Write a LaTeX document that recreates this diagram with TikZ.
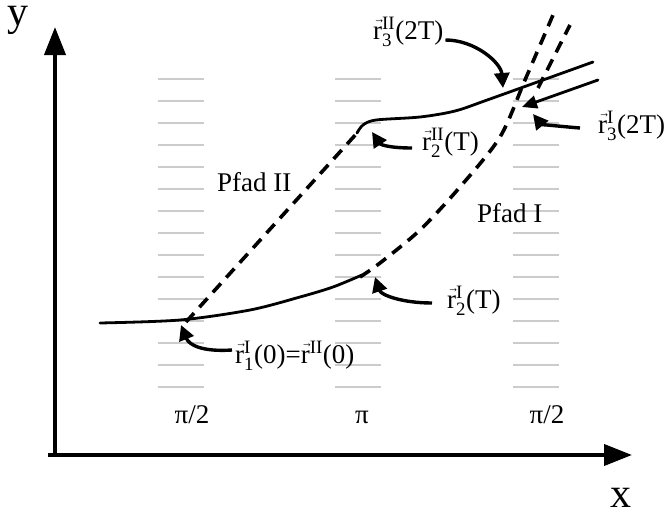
\documentclass[tikz,border=0pt]{standalone}
\usepackage{amsmath}
\usepackage{graphicx}
\usepackage{fontspec}
\setmainfont{Liberation Serif}
\usetikzlibrary{arrows.meta,calc}
\newcommand\myvr{\leavevmode\rlap{\hspace{0.02em}\raisebox{0.56em}{\scalebox{0.42}[0.5]{→}}}r}
\newcommand\myss[2]{$_{\text{#1}}^{\text{#2}}$}
\begin{document}
\begin{tikzpicture}[x=1pt,y=-1pt,
  lab/.style={font=\fontsize{27}{31}\selectfont, inner sep=0pt, anchor=base west},
  axl/.style={font=\fontsize{42}{48}\selectfont, inner sep=0pt, anchor=base west},
  stripe/.style={draw=black!20, line width=2.2pt},
  solidc/.style={line width=2.8pt, line cap=round},
  dsh/.style={line width=3.6pt, dash pattern=on 12pt off 8pt},
  hookarrow/.style={line width=3.4pt, -{Triangle[length=15pt,width=15pt]}},
  axisline/.style={line width=4pt, -{Triangle[length=28pt,width=21pt]}}]
\useasboundingbox (0,0) rectangle (669,514);
% gray stripes
\foreach \cx in {158,335,513}{
  \foreach \k in {0,...,14}{
    \draw[stripe] ({\cx},{79+22*\k}) -- ({\cx+46},{79+22*\k});
  }
}
% axes
\coordinate (O) at (55,455);
\coordinate (ytip) at (55,27);
\coordinate (xstart) at (48,455);
\coordinate (xtip) at (632,455);
\draw[axisline] (xstart) -- (xtip);
\draw[axisline] (O) -- (ytip);
\node[axl] (ylab) at (7,25) {y};
\node[axl] (xlab) at (610,507) {x};
% tick labels
\node[lab, anchor=base] (t1) at (192,423) {π/2};
\node[lab, anchor=base] (t2) at (362,423) {π};
\node[lab, anchor=base] (t3) at (547,423) {π/2};
% path labels
\node[lab] (p2) at (217,191) {Pfad II};
\node[lab] (p1) at (477,222) {Pfad I};
% curves
\draw[solidc] plot[smooth] coordinates {(100,323) (180,320) (250,310) (300,297) (333,287) (362,275)};
\draw[dsh] plot[smooth] coordinates {(360,277) (380,263) (420,230) (460,187) (500,137) (525,80) (553,15)};
\draw[dsh] (538,88) -- (570,25);
\draw[dsh] (186,322) -- (358,132);
\draw[solidc] plot[smooth] coordinates {(357,133) (363,125) (376,120) (420,117) (455,111) (490,99) (593,62)};
\coordinate (b1) at (598,80);
\coordinate (b2) at (522,107);
\draw[solidc, -{Triangle[length=15pt,width=13pt]}] (b1) -- (b2);
% point labels
\node[lab] (r1) at (235,363) {\myvr\myss{1}{I}(0)=\myvr$^{\text{II}}$(0)};
\node[lab] (r2I) at (447,308) {\myvr\myss{2}{I}(T)};
\node[lab] (r2II) at (422,150) {\myvr\myss{2}{II}(T)};
\node[lab] (r3I) at (598,133) {\myvr\myss{3}{I}(2T)};
\node[lab] (r3II) at (373,39) {\myvr\myss{3}{II}(2T)};
% hook arrows
\coordinate (h1) at (181,325);
\coordinate (h2) at (375,277);
\coordinate (h3) at (372,132);
\coordinate (h4) at (533,114);
\coordinate (h5) at (503,88);
\draw[hookarrow] ($(r1.base west)+(-3,-13)$) .. controls +(-30,2) and +(8,20) .. (h1);
\draw[hookarrow] ($(r2I.base west)+(-15,-5)$) .. controls +(-30,0) and +(6,18) .. (h2);
\draw[hookarrow] ($(r2II.base west)+(-10,-2)$) .. controls +(-25,0) and +(8,12) .. (h3);
\draw[hookarrow] ($(r3I.base west)+(-18,-5)$) .. controls +(-25,-2) and +(8,10) .. (h4);
\draw[hookarrow] ($(r3II.base east)+(2,1)$) .. controls +(30,0) and +(-2,-25) .. (h5);
\end{tikzpicture}
\end{document}
